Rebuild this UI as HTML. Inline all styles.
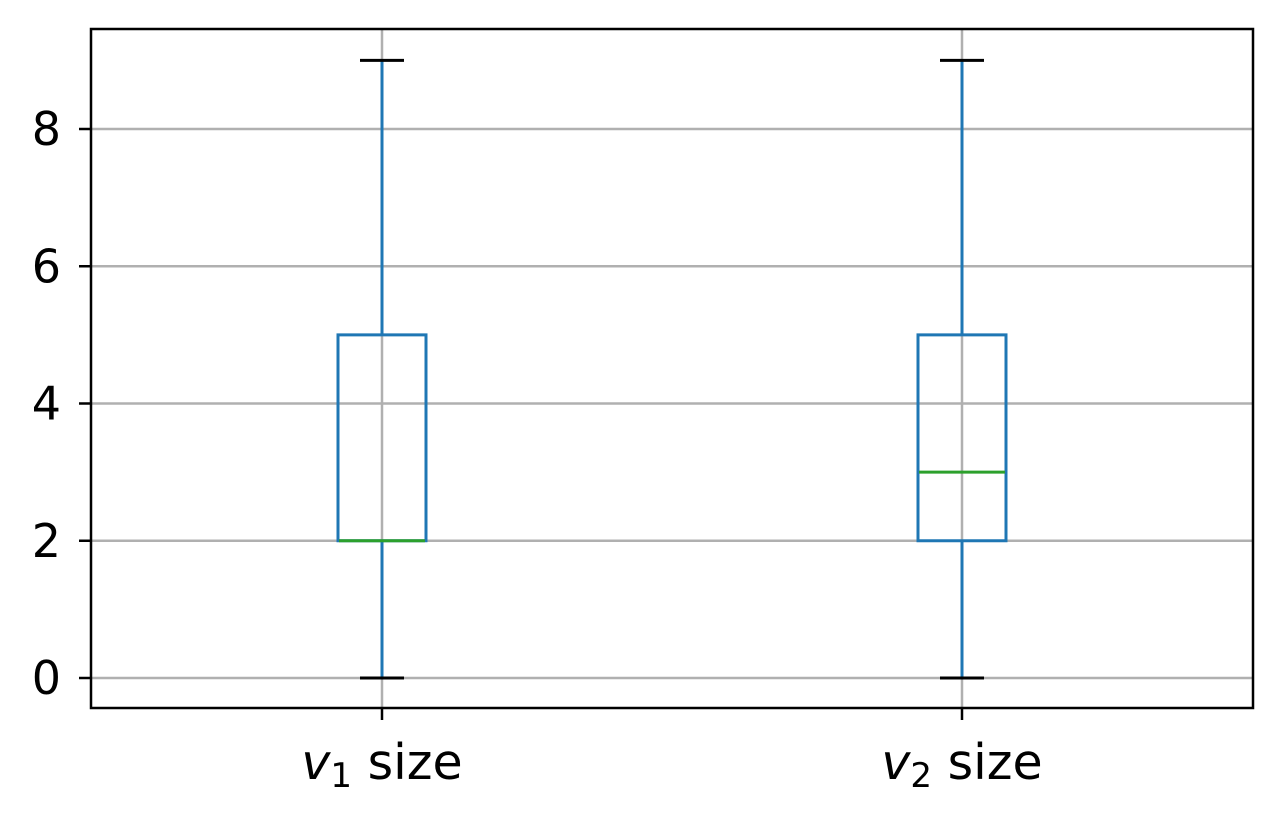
<!DOCTYPE html>
<html><head><meta charset="utf-8"><style>
html,body{margin:0;padding:0;background:#fff;}
svg{display:block;font-family:"DejaVu Sans","Liberation Sans",sans-serif;}
</style></head><body>
<svg id="chart" width="1283" height="818"></svg>
<script>
const categories = ["v1 size", "v2 size"];
const subscripts = ["1", "2"];
const mins = [0, 0];
const q1s = [2, 2];
const medians = [2, 3];
const q3s = [5, 5];
const maxs = [9, 9];
const yTicks = [0, 2, 4, 6, 8];

const NS = "http://www.w3.org/2000/svg";
const svg = document.getElementById("chart");
const L = 91, R = 1253, T = 29, B = 708;
const y = v => 678 - v * 68.625;
const x = i => 382 + i * 580;
function mk(tag, attrs, parent) {
  const e = document.createElementNS(NS, tag);
  for (const k in attrs) e.setAttribute(k, attrs[k]);
  (parent || svg).appendChild(e);
  return e;
}
yTicks.forEach(t => {
  const g = mk("line", {x1: L, x2: R, y1: y(t), y2: y(t), stroke: "#b0b0b0", "stroke-width": 2.5});
  
  
  const tk = mk("line", {x1: L - 12, x2: L, y1: y(t), y2: y(t), stroke: "#000", "stroke-width": 2.5});
  
  
  const tx = mk("text", {x: L - 30, y: y(t) + 16, "text-anchor": "end", "font-size": 46, fill: "#000"});
  tx.textContent = t;
  
  
});
categories.forEach((c, i) => {
  const cx = x(i);
  const g = mk("line", {x1: cx, x2: cx, y1: T, y2: B, stroke: "#b0b0b0", "stroke-width": 2.5});
  
  
  const grp = mk("g", {});
  
  
  const blue = "#1f77b4";
  mk("line", {x1: cx, x2: cx, y1: y(q3s[i]), y2: y(maxs[i]), stroke: blue, "stroke-width": 3}, grp);
  mk("line", {x1: cx, x2: cx, y1: y(q1s[i]), y2: y(mins[i]), stroke: blue, "stroke-width": 3}, grp);
  mk("rect", {x: cx - 44, y: y(q3s[i]), width: 88, height: y(q1s[i]) - y(q3s[i]), fill: "none", stroke: blue, "stroke-width": 3}, grp);
  mk("line", {x1: cx - 22, x2: cx + 22, y1: y(maxs[i]), y2: y(maxs[i]), stroke: "#000", "stroke-width": 3}, grp);
  mk("line", {x1: cx - 22, x2: cx + 22, y1: y(mins[i]), y2: y(mins[i]), stroke: "#000", "stroke-width": 3}, grp);
  mk("line", {x1: cx - 43, x2: cx + 43, y1: y(medians[i]), y2: y(medians[i]), stroke: "#2ca02c", "stroke-width": 3}, grp);
  const tk = mk("line", {x1: cx, x2: cx, y1: B, y2: B + 12, stroke: "#000", "stroke-width": 2.5});
  
  
  const tx = mk("text", {x: cx, y: 779, "text-anchor": "middle", "font-size": 49, fill: "#000"});
  tx.innerHTML = '<tspan font-style="italic">v</tspan><tspan font-size="34" dy="8">' + subscripts[i] + '</tspan><tspan dy="-8"> size</tspan>';
  
  
});
const frame = mk("rect", {x: L, y: T, width: R - L, height: B - T, fill: "none", stroke: "#000", "stroke-width": 2.5});


</script>
</body></html>
